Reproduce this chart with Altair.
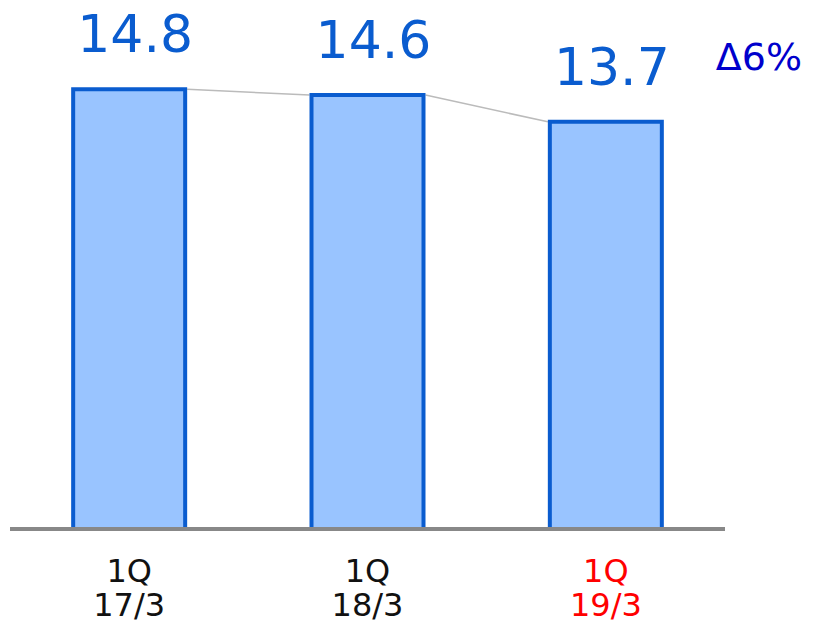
import altair as alt
import pandas as pd

periods = ["17/3", "18/3", "19/3"]
quarters = ["1Q", "1Q", "1Q"]
values = [14.8, 14.6, 13.7]
label_colors = ["#111111", "#111111", "#ff0000"]
change_label = "Δ6%"

idx = list(range(len(periods)))
df = pd.DataFrame({
    "i": idx,
    "period": periods,
    "xlabel": [q + "\n" + p for q, p in zip(quarters, periods)],
    "value": values,
    "txt": [f"{v:.1f}" for v in values],
    "lc": label_colors,
})
links = pd.DataFrame({
    "i": idx[:-1],
    "j": idx[1:],
    "value": values[:-1],
    "value2": values[1:],
})

FONT = "DejaVu Sans"
xscale = alt.Scale(domain=[-0.5, len(periods) - 0.5], nice=False, zero=False, padding=0)
yscale = alt.Scale(domain=[0, 17.8], nice=False, padding=0)

base = alt.Chart(df)

bars = base.mark_bar(size=112, fill="#99c4ff", stroke="#0a5ccf", strokeWidth=4).encode(
    x=alt.X("i:Q", scale=xscale, axis=None),
    y=alt.Y("value:Q", scale=yscale, axis=None),
)

baseline = base.mark_rule(color="#888888", strokeWidth=4).encode(
    x=alt.value(0),
    x2=alt.value(715),
    y=alt.value(529),
)

texts = base.mark_text(font=FONT, fontSize=52, color="#0a5ccf", baseline="alphabetic", dy=-37, dx=6).encode(
    x=alt.X("i:Q", scale=xscale, axis=None),
    y=alt.Y("value:Q", scale=yscale, axis=None),
    text="txt:N",
)

xlabels = base.mark_text(font=FONT, fontSize=32, baseline="alphabetic", lineBreak="\n", lineHeight=34).encode(
    x=alt.X("i:Q", scale=xscale, axis=None),
    y=alt.value(582),
    text="xlabel:N",
    color=alt.Color("lc:N", scale=None),
)

rules = alt.Chart(links).mark_rule(color="#bbbbbb", strokeWidth=1.5, xOffset=58, x2Offset=-58).encode(
    x=alt.X("i:Q", scale=xscale, axis=None),
    x2="j:Q",
    y=alt.Y("value:Q", scale=yscale, axis=None),
    y2="value2:Q",
)

delta = alt.Chart(pd.DataFrame({"t": [change_label]})).mark_text(
    font=FONT, fontSize=38, color="#0000cc", baseline="alphabetic", align="center"
).encode(
    x=alt.value(749),
    y=alt.value(70),
    text="t:N",
)

chart = alt.layer(rules, bars, baseline, texts, xlabels, delta).properties(
    width=715,
    height=529,
    padding={"left": 10, "top": 0, "right": 90, "bottom": 94},
    autosize=alt.AutoSizeParams(type="none"),
).configure_view(stroke=None)

chart.save("out.html", embed_options={"renderer": "svg", "actions": False})
